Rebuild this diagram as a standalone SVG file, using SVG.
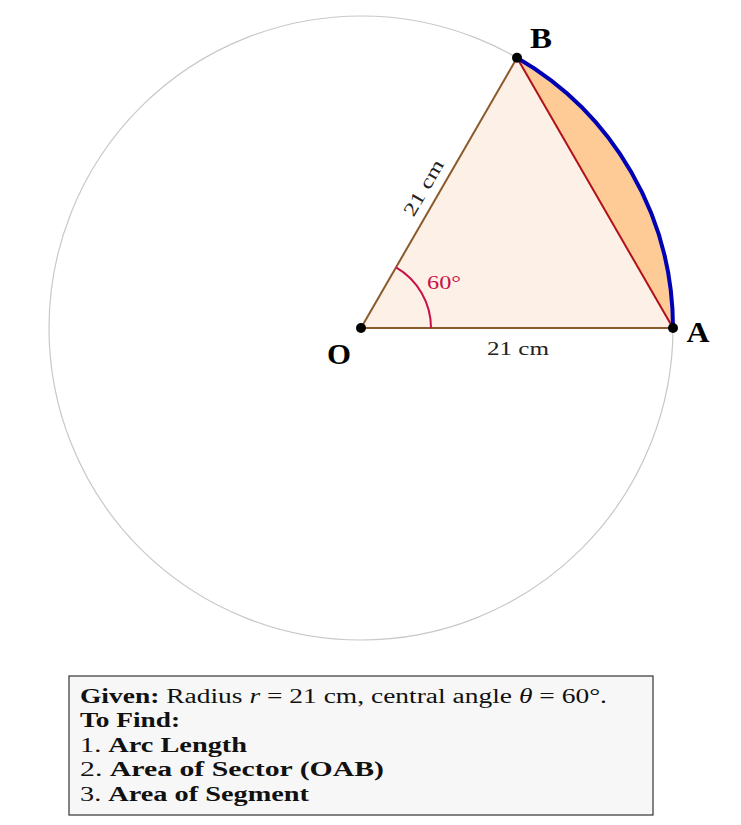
<svg xmlns="http://www.w3.org/2000/svg" width="741" height="825" viewBox="0 0 741 825">
<style>
.lbl{font-family:"Liberation Serif","DejaVu Serif",serif;font-weight:bold;font-size:29px;fill:#000}
.dim{font-family:"Liberation Serif","DejaVu Serif",serif;font-size:19px;fill:#222}
.box{font-family:"Liberation Serif","DejaVu Serif",serif;font-size:20px;fill:#111}
.b{font-weight:bold}
.i{font-style:italic}
</style>
<rect width="741" height="825" fill="#fff"/>
<g id="circle"><circle cx="361" cy="328" r="312" fill="none" stroke="#c8c8c8" stroke-width="1.2"/></g>
<g id="sector">
<path d="M361,328 L673,328 A312,312 0 0 0 517,57.8 Z" fill="#fdf0e6"/>
<path d="M673,328 A312,312 0 0 0 517,57.8 Z" fill="#fecb97"/>
</g>
<g id="connectors">
<line x1="361" y1="328" x2="673" y2="328" stroke="#8b5a2b" stroke-width="2"/>
<line x1="361" y1="328" x2="517" y2="57.8" stroke="#8b5a2b" stroke-width="2"/>
<line x1="673" y1="328" x2="517" y2="57.8" stroke="#b0101a" stroke-width="2"/>
<path d="M673,328 A312,312 0 0 0 517,57.8" fill="none" stroke="#0000b4" stroke-width="4"/>
<path d="M431,328 A70,70 0 0 0 396,267.4" fill="none" stroke="#c8104a" stroke-width="2"/>
</g>
<g id="O"><circle cx="361" cy="328" r="5" fill="#000"/><text class="lbl" x="339" y="364" text-anchor="middle" textLength="24" lengthAdjust="spacingAndGlyphs">O</text></g>
<g id="A"><circle cx="673" cy="328" r="5" fill="#000"/><text class="lbl" x="698" y="342" text-anchor="middle" textLength="23" lengthAdjust="spacingAndGlyphs">A</text></g>
<g id="B"><circle cx="517" cy="57.8" r="5" fill="#000"/><text class="lbl" x="541" y="48" text-anchor="middle" textLength="22" lengthAdjust="spacingAndGlyphs">B</text></g>
<g id="labels">
<text class="dim" x="518" y="355" text-anchor="middle" textLength="62" lengthAdjust="spacingAndGlyphs">21 cm</text>
<text class="dim" x="0" y="0" text-anchor="middle" transform="translate(429,191) rotate(-60)" textLength="62" lengthAdjust="spacingAndGlyphs">21 cm</text>
<text class="dim" x="444" y="289" text-anchor="middle" style="fill:#c8104a" textLength="34" lengthAdjust="spacingAndGlyphs">60°</text>
</g>
<g id="infobox">
<rect x="69" y="676" width="584" height="139" fill="#f7f7f7" stroke="#333" stroke-width="1.2"/>
<text class="box" x="80" y="703" textLength="527" lengthAdjust="spacingAndGlyphs"><tspan class="b">Given:</tspan> Radius <tspan class="i">r</tspan> = 21 cm, central angle <tspan class="i">θ</tspan> = 60°.</text>
<text class="box b" x="80" y="727" textLength="100" lengthAdjust="spacingAndGlyphs">To Find:</text>
<text class="box" x="80" y="752" textLength="167" lengthAdjust="spacingAndGlyphs">1. <tspan class="b">Arc Length</tspan></text>
<text class="box" x="80" y="776" textLength="304" lengthAdjust="spacingAndGlyphs">2. <tspan class="b">Area of Sector (OAB)</tspan></text>
<text class="box" x="80" y="801" textLength="229" lengthAdjust="spacingAndGlyphs">3. <tspan class="b">Area of Segment</tspan></text>
</g>
</svg>
